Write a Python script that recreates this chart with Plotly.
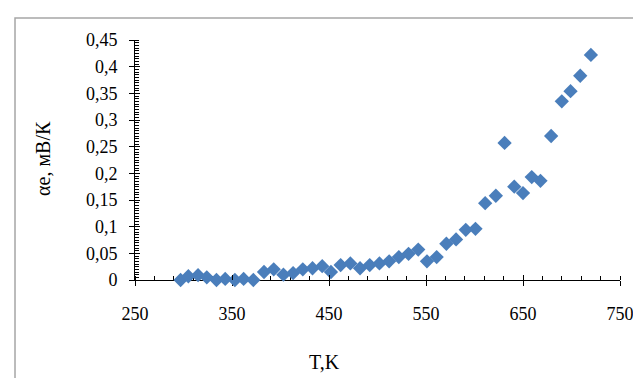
import plotly.graph_objects as go

# Data
T_K = [297, 305, 315, 324, 334, 343, 353, 362, 372, 383, 393, 403, 413, 423, 433,
       443, 452, 462, 472, 482, 492, 502, 512, 522, 532, 542, 551, 561, 571, 581,
       591, 601, 611, 622, 631, 641, 650, 659, 668, 679, 690, 699, 709, 720]
alpha_e = [0.0, 0.007, 0.009, 0.005, 0.0, 0.002, 0.0, 0.002, 0.0, 0.015, 0.020,
           0.010, 0.013, 0.020, 0.022, 0.026, 0.015, 0.028, 0.031, 0.022, 0.028,
           0.031, 0.035, 0.043, 0.049, 0.057, 0.035, 0.043, 0.068, 0.076, 0.094,
           0.096, 0.144, 0.158, 0.257, 0.175, 0.163, 0.193, 0.186, 0.270, 0.335,
           0.354, 0.383, 0.422]

x_ticks = [250, 350, 450, 550, 650, 750]
x_labels = ["250", "350", "450", "550", "650", "750"]
y_ticks = [0, 0.05, 0.1, 0.15, 0.2, 0.25, 0.3, 0.35, 0.4, 0.45]
y_labels = ["0", "0,05", "0,1", "0,15", "0,2", "0,25", "0,3", "0,35", "0,4", "0,45"]

FONT = "Liberation Serif, Times New Roman, serif"
BLUE = "#4A7EBB"

fig = go.Figure()
fig.add_trace(go.Scatter(
    x=T_K, y=alpha_e, mode="markers",
    marker=dict(symbol="diamond", size=11, color=BLUE, line=dict(width=0)),
    cliponaxis=False, showlegend=False,
))
# invisible trace for overlay axes (used for crossing major ticks)
fig.add_trace(go.Scatter(x=[None], y=[None], xaxis="x2", yaxis="y2",
                         showlegend=False, hoverinfo="skip"))

axis_common = dict(showgrid=False, zeroline=False, showline=True,
                   linecolor="black", linewidth=1, ticks="outside",
                   ticklen=5, tickcolor="black", tickwidth=1,
                   tickfont=dict(family=FONT, size=18, color="black"),
                   layer="below traces")

fig.update_layout(
    width=641, height=378,
    margin=dict(l=127, r=29, t=32, b=106),
    paper_bgcolor="white", plot_bgcolor="white",
    font=dict(family=FONT, size=18, color="black"),
    xaxis=dict(range=[250, 750], tickvals=x_ticks, ticktext=x_labels,
               ticklabelstandoff=12,
               minor=dict(dtick=20, tick0=250, ticks="inside", ticklen=4,
                          tickcolor="black", tickwidth=1),
               **axis_common),
    yaxis=dict(range=[0, 0.45], tickvals=y_ticks, ticktext=y_labels,
               ticklabelstandoff=8,
               minor=dict(dtick=0.005, tick0=0, ticks="inside", ticklen=4,
                          tickcolor="black", tickwidth=1),
               **axis_common),
    xaxis2=dict(range=[250, 750], overlaying="x", anchor="y2", side="bottom",
                showgrid=False, zeroline=False, showline=False,
                tickvals=x_ticks, showticklabels=False, ticks="inside",
                ticklen=5, tickcolor="black", tickwidth=1),
    yaxis2=dict(range=[0, 0.45], overlaying="y", anchor="x2", side="left",
                showgrid=False, zeroline=False, showline=False,
                tickvals=y_ticks, showticklabels=False, ticks="inside",
                ticklen=5, tickcolor="black", tickwidth=1),
    showlegend=False,
)

# axis titles
fig.add_annotation(text="αe, мВ/К", xref="paper", yref="paper",
                   x=-0.19, y=0.508, textangle=-90, showarrow=False,
                   font=dict(family=FONT, size=20, color="black"),
                   xanchor="center", yanchor="middle")
fig.add_annotation(text="T,K", xref="paper", yref="paper",
                   x=0.39, y=-0.34, showarrow=False,
                   font=dict(family=FONT, size=20, color="black"),
                   xanchor="center", yanchor="middle")

# chart area border (top and left edges visible)
fig.add_shape(type="path", xref="paper", yref="paper",
              path="M -0.2474,-0.5 L -0.2474,1.0917 L 1.1,1.0917",
              line=dict(color="#A6A6A6", width=1.5))

fig.write_html("out.html")
